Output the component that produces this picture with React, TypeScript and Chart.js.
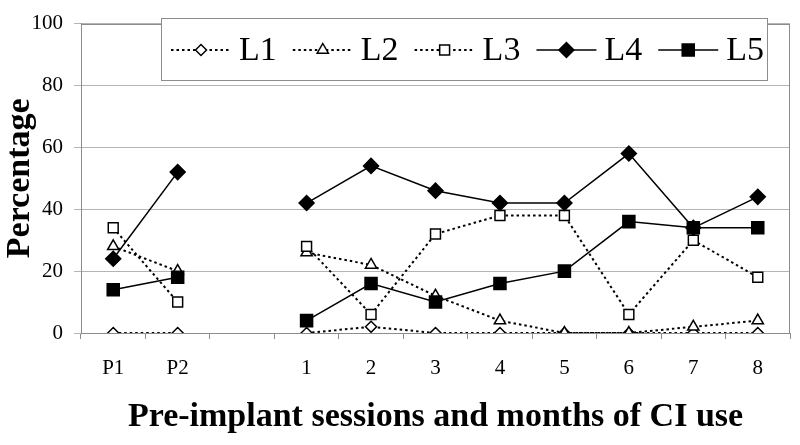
import React, { useEffect, useRef } from "react";
import { Chart, registerables } from "chart.js";

Chart.register(...registerables);

const categories = ["P1", "P2", "", "1", "2", "3", "4", "5", "6", "7", "8"];
const seriesNames = ["L1", "L2", "L3", "L4", "L5"];
const L1 = [0, 0, null, 0, 2, 0, 0, 0, 0, 0, 0];
const L2 = [28, 20, null, 26, 22, 12, 4, 0, 0, 2, 4];
const L3 = [34, 10, null, 28, 6, 32, 38, 38, 6, 30, 18];
const L4 = [24, 52, null, 42, 54, 46, 42, 42, 58, 34, 44];
const L5 = [14, 18, null, 4, 16, 10, 16, 20, 36, 34, 34];
const yTicks = [0, 20, 40, 60, 80, 100];
const xTitle = "Pre-implant sessions and months of CI use";
const yTitle = "Percentage";

const FONT = '"Liberation Serif", "Times New Roman", serif';

function drawMarker(ctx: CanvasRenderingContext2D, style: string, x: number, y: number, r: number, fill: string, stroke: string, lw: number) {
  ctx.save();
  ctx.setLineDash([]);
  ctx.beginPath();
  if (style === "rectRot") {
    ctx.moveTo(x - r, y);
    ctx.lineTo(x, y - r);
    ctx.lineTo(x + r, y);
    ctx.lineTo(x, y + r);
    ctx.closePath();
  } else if (style === "rect") {
    const s = r * Math.SQRT1_2;
    ctx.rect(x - s, y - s, 2 * s, 2 * s);
  } else if (style === "triangle") {
    ctx.moveTo(x, y - r);
    ctx.lineTo(x + 0.866 * r, y + 0.5 * r);
    ctx.lineTo(x - 0.866 * r, y + 0.5 * r);
    ctx.closePath();
  }
  ctx.fillStyle = fill;
  ctx.fill();
  ctx.lineWidth = lw;
  ctx.strokeStyle = stroke;
  ctx.stroke();
  ctx.restore();
}

const frameAndLegend = {
  id: "frameAndLegend",
  beforeDatasetsDraw(chart: any) {
    const { ctx, chartArea } = chart;
    ctx.save();
    ctx.strokeStyle = "#8c8c8c";
    ctx.lineWidth = 1;
    ctx.strokeRect(Math.round(chartArea.left) + 0.5, Math.round(chartArea.top) + 0.5, Math.round(chartArea.right - chartArea.left) - 1, Math.round(chartArea.bottom - chartArea.top));
    ctx.restore();
  },
  afterDraw(chart: any) {
    const { ctx } = chart;
    const bx = 161, by = 18, bw = 606, bh = 62;
    ctx.save();
    ctx.fillStyle = "#ffffff";
    ctx.fillRect(bx, by, bw, bh);
    ctx.strokeStyle = "#8c8c8c";
    ctx.lineWidth = 1;
    ctx.strokeRect(bx + 0.5, by + 0.5, bw, bh);
    ctx.font = `34px ${FONT}`;
    ctx.textBaseline = "middle";
    ctx.textAlign = "left";
    const datasets = chart.data.datasets;
    const lineLen = 60, gap = 8;
    const widths = datasets.map((d: any) => ctx.measureText(d.label).width);
    const startX = bx + 10, endX = bx + bw - 3;
    const used = widths.reduce((a: number, w: number) => a + w + lineLen + gap, 0);
    const itemGap = (endX - startX - used) / (datasets.length - 1);
    let x = startX;
    const cy = by + bh / 2 + 1;
    datasets.forEach((d: any, i: number) => {
      ctx.save();
      ctx.strokeStyle = d.borderColor;
      ctx.lineWidth = d.borderWidth;
      ctx.setLineDash(d.borderDash || []);
      ctx.beginPath();
      ctx.moveTo(x, cy);
      ctx.lineTo(x + lineLen, cy);
      ctx.stroke();
      ctx.restore();
      drawMarker(ctx, d.pointStyle, x + lineLen / 2, cy, d.pointRadius, d.pointBackgroundColor, d.pointBorderColor, d.pointBorderWidth);
      ctx.fillStyle = "#000";
      ctx.fillText(d.label, x + lineLen + gap, cy + 1);
      x += lineLen + gap + widths[i] + itemGap;
    });
    ctx.restore();
  },
};

export default function App() {
  const ref = useRef<HTMLCanvasElement | null>(null);
  useEffect(() => {
    if (!ref.current) return;
    const dotted = [2.5, 3];
    const mk = (i: number, data: any[], style: string, r: number, filled: boolean, dash: boolean) => ({
      label: seriesNames[i],
      data,
      borderColor: "#000",
      borderWidth: dash ? 2 : 1.5,
      borderDash: dash ? dotted : [],
      pointStyle: style,
      pointRadius: r,
      pointHoverRadius: r,
      pointBackgroundColor: filled ? "#000" : "#fff",
      pointBorderColor: "#000",
      pointBorderWidth: 1.5,
      spanGaps: false,
      tension: 0,
      fill: false,
      order: 4 - i,
    });
    const chart = new Chart(ref.current, {
      type: "line",
      data: {
        labels: categories,
        datasets: [
          mk(0, L1, "rectRot", 5.5, false, true),
          mk(1, L2, "triangle", 6.5, false, true),
          mk(2, L3, "rect", 7, false, true),
          mk(3, L4, "rectRot", 7.5, true, false),
          mk(4, L5, "rect", 8.5, true, false),
        ],
      },
      options: {
        responsive: false,
        animation: false,
        layout: { padding: { top: 15, right: 9, left: 0, bottom: 0 } },
        plugins: { legend: { display: false }, tooltip: { enabled: false } },
        scales: {
          x: {
            type: "category",
            offset: true,
            grid: { offset: true, drawOnChartArea: false, drawTicks: true, tickLength: 6, color: "#8c8c8c" },
            border: { color: "#8c8c8c" },
            ticks: { color: "#000", font: { family: FONT, size: 21 }, padding: 17, maxRotation: 0, autoSkip: false },
            title: { display: true, text: xTitle, color: "#000", font: { family: FONT, size: 34, weight: "bold" }, padding: { top: 0, bottom: 7 } },
            afterFit: (s: any) => { s.height = 112; },
          },
          y: {
            min: 0,
            max: 100,
            afterBuildTicks: (s: any) => { s.ticks = yTicks.map((v) => ({ value: v })); },
            grid: { color: "#b4b4b4", tickLength: 7, drawTicks: true },
            border: { color: "#8c8c8c" },
            ticks: { color: "#000", font: { family: FONT, size: 21 }, padding: 11 },
            title: { display: true, text: yTitle, color: "#000", font: { family: FONT, size: 34, weight: "bold" }, padding: { top: 0, bottom: 0 } },
            afterFit: (s: any) => { s.width = 81; },
          },
        },
      },
      plugins: [frameAndLegend],
    });
    return () => chart.destroy();
  }, []);
  return (
    <div style={{ position: "absolute", left: 0, top: 0, width: 800, height: 445, background: "#fff" }}>
      <canvas ref={ref} width={800} height={445} />
    </div>
  );
}
